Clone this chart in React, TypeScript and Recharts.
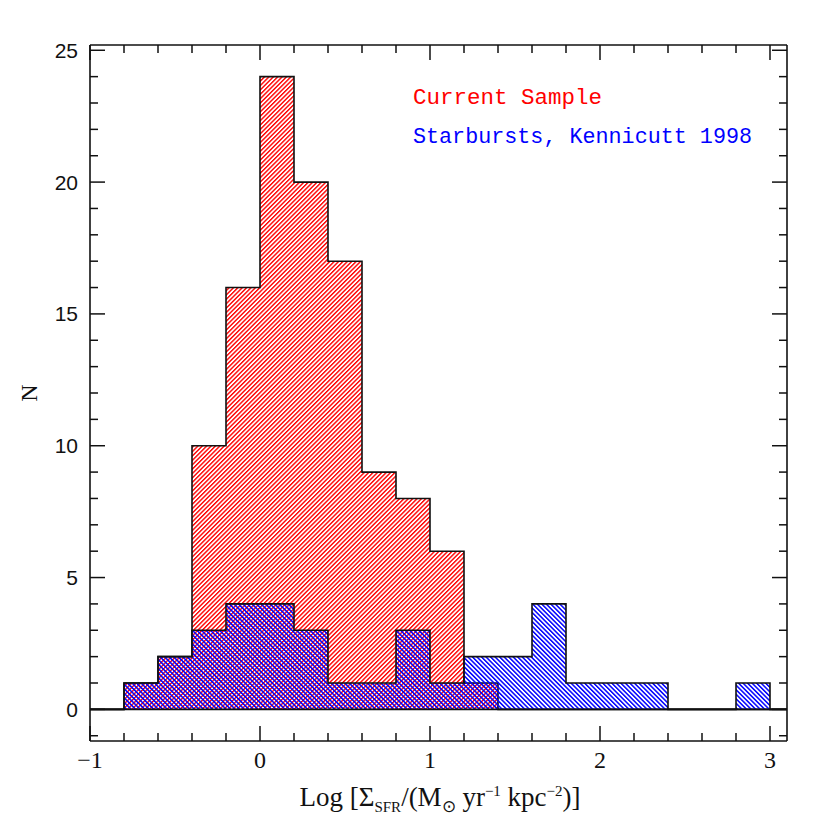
import React from 'react';
import { ComposedChart, Area, XAxis, YAxis, ReferenceLine } from 'recharts';

// Histogram bin left edges (bin width 0.2), plus closing edges
const binEdges = [-1.0, -0.8, -0.6, -0.4, -0.2, 0.0, 0.2, 0.4, 0.6, 0.8, 1.0, 1.2, 1.4, 1.6, 1.8, 2.0, 2.2, 2.4, 2.6, 2.8, 3.0, 3.1];
const currentSample = [0, 1, 2, 10, 16, 24, 20, 17, 9, 8, 6, 1, 0, 0, 0, 0, 0, 0, 0, 0, 0, 0];
const starbursts = [0, 1, 2, 3, 4, 4, 3, 1, 1, 3, 1, 2, 2, 4, 1, 1, 1, 0, 0, 1, 0, 0];

const xTicks = [-1, -0.8, -0.6, -0.4, -0.2, 0, 0.2, 0.4, 0.6, 0.8, 1, 1.2, 1.4, 1.6, 1.8, 2, 2.2, 2.4, 2.6, 2.8, 3];
const yTicks = [-1, 0, 1, 2, 3, 4, 5, 6, 7, 8, 9, 10, 11, 12, 13, 14, 15, 16, 17, 18, 19, 20, 21, 22, 23, 24, 25];
const xMajorStep = 1;
const yMajorStep = 5;

const data = binEdges.map((x, i) => ({ x, current: currentSample[i], starburst: starbursts[i] }));

const INK = '#111';
const MAJOR = 15;
const MINOR = 8;

const isMajorX = (v: number) => Math.abs(v / xMajorStep - Math.round(v / xMajorStep)) < 1e-6;
const isMajorY = (v: number) => Math.abs(v / yMajorStep - Math.round(v / yMajorStep)) < 1e-6 && v >= 0;

const fmtX = (v: number) => {
  const r = Math.round(v);
  return r < 0 ? '\u2212' + Math.abs(r) : String(r);
};

const BottomTick = (props: any) => {
  const { x, y, payload } = props;
  const v = payload.value;
  const major = isMajorX(v);
  return (
    <g>
      <line x1={x} y1={y} x2={x} y2={y - (major ? MAJOR : MINOR)} stroke={INK} strokeWidth={1.5} />
      {major && (
        <text x={x} y={y + 27} textAnchor="middle" fontFamily="Liberation Serif" fontSize={24} fill={INK}>
          {fmtX(v)}
        </text>
      )}
    </g>
  );
};

const TopTick = (props: any) => {
  const { x, y, payload } = props;
  const major = isMajorX(payload.value);
  return <line x1={x} y1={y} x2={x} y2={y + (major ? MAJOR : MINOR)} stroke={INK} strokeWidth={1.5} />;
};

const LeftTick = (props: any) => {
  const { x, y, payload } = props;
  const v = payload.value;
  const major = isMajorY(v);
  return (
    <g>
      <line x1={x} y1={y} x2={x + (major ? MAJOR : MINOR)} y2={y} stroke={INK} strokeWidth={1.5} />
      {major && (
        <text x={x - 12} y={y + 7.5} textAnchor="end" fontFamily="Liberation Sans" fontSize={21} fill={INK}>
          {String(v)}
        </text>
      )}
    </g>
  );
};

const RightTick = (props: any) => {
  const { x, y, payload } = props;
  const major = isMajorY(payload.value);
  return <line x1={x} y1={y} x2={x - (major ? MAJOR : MINOR)} y2={y} stroke={INK} strokeWidth={1.5} />;
};

export default function App() {
  const W = 814;
  const H = 814;
  return (
    <div style={{ position: 'relative', width: W, height: H }}>
      <svg width={0} height={0} style={{ position: 'absolute' }}>
        <defs>
          <pattern id="hatchRed" patternUnits="userSpaceOnUse" width={3.1} height={10} patternTransform="rotate(45)">
            <rect x={0} y={0} width={1.4} height={10} fill="#ff0000" />
          </pattern>
          <pattern id="hatchBlue" patternUnits="userSpaceOnUse" width={3.2} height={10} patternTransform="rotate(-45)">
            <rect x={0} y={0} width={1.5} height={10} fill="#0000ff" />
          </pattern>
        </defs>
      </svg>
      <ComposedChart width={W} height={H} data={data} margin={{ top: 17, right: 5, bottom: 31, left: 0 }}>
        <XAxis
          xAxisId="bottom"
          dataKey="x"
          type="number"
          domain={[-1, 3.1]}
          ticks={xTicks}
          interval={0}
          orientation="bottom"
          height={50}
          tickSize={0}
          tickMargin={0}
          tickLine={false}
          axisLine={{ stroke: INK, strokeWidth: 1.6 }}
          tick={BottomTick}
          allowDataOverflow
        />
        <XAxis
          xAxisId="top"
          dataKey="x"
          type="number"
          domain={[-1, 3.1]}
          ticks={xTicks}
          interval={0}
          orientation="top"
          height={20}
          tickSize={0}
          tickMargin={0}
          tickLine={false}
          axisLine={{ stroke: INK, strokeWidth: 1.6 }}
          tick={TopTick}
          allowDataOverflow
        />
        <YAxis
          yAxisId="left"
          type="number"
          domain={[-1.2, 25.2]}
          ticks={yTicks}
          interval={0}
          orientation="left"
          width={82}
          tickSize={0}
          tickMargin={0}
          tickLine={false}
          axisLine={{ stroke: INK, strokeWidth: 1.6 }}
          tick={LeftTick}
          allowDataOverflow
        />
        <YAxis
          yAxisId="right"
          type="number"
          domain={[-1.2, 25.2]}
          ticks={yTicks}
          interval={0}
          orientation="right"
          width={30}
          tickSize={0}
          tickMargin={0}
          tickLine={false}
          axisLine={{ stroke: INK, strokeWidth: 1.6 }}
          tick={RightTick}
          allowDataOverflow
        />
        <Area
          xAxisId="bottom"
          yAxisId="left"
          type="stepAfter"
          dataKey="current"
          fill="url(#hatchRed)"
          fillOpacity={1}
          stroke={INK}
          strokeWidth={1.6}
          dot={false}
          activeDot={false}
          isAnimationActive={false}
        />
        <Area
          xAxisId="bottom"
          yAxisId="left"
          type="stepAfter"
          dataKey="starburst"
          fill="url(#hatchBlue)"
          fillOpacity={1}
          stroke={INK}
          strokeWidth={1.6}
          dot={false}
          activeDot={false}
          isAnimationActive={false}
        />
        <ReferenceLine xAxisId="bottom" yAxisId="left" y={0} stroke={INK} strokeWidth={1.6} />
      </ComposedChart>
      <svg width={W} height={H} style={{ position: 'absolute', left: 0, top: 0, pointerEvents: 'none' }}>
        <text x={405} y={96} fontFamily="Liberation Mono" fontSize={22.5} fill="#ff0000">Current Sample</text>
        <text x={405} y={135} fontFamily="Liberation Mono" fontSize={22} fill="#0000ff" textLength={339} lengthAdjust="spacingAndGlyphs">Starbursts, Kennicutt 1998</text>
        <text
          x={0}
          y={0}
          transform="translate(29,385) rotate(-90)"
          textAnchor="middle"
          fontFamily="Liberation Serif"
          fontSize={24}
          fill={INK}
        >
          N
        </text>
        <text x={432} y={798} textAnchor="middle" fontFamily="Liberation Serif" fontSize={27} fill={INK}>
          <tspan>Log [</tspan>
          <tspan>Σ</tspan>
          <tspan fontSize={15} dy={6}>SFR</tspan>
          <tspan dy={-6}>/(M</tspan>
          <tspan fontSize={17} dy={6}>⊙</tspan>
          <tspan dy={-6}> yr</tspan>
          <tspan fontSize={15} dy={-10}>−1</tspan>
          <tspan dy={10}> kpc</tspan>
          <tspan fontSize={15} dy={-10}>−2</tspan>
          <tspan dy={10}>)]</tspan>
        </text>
      </svg>
    </div>
  );
}
